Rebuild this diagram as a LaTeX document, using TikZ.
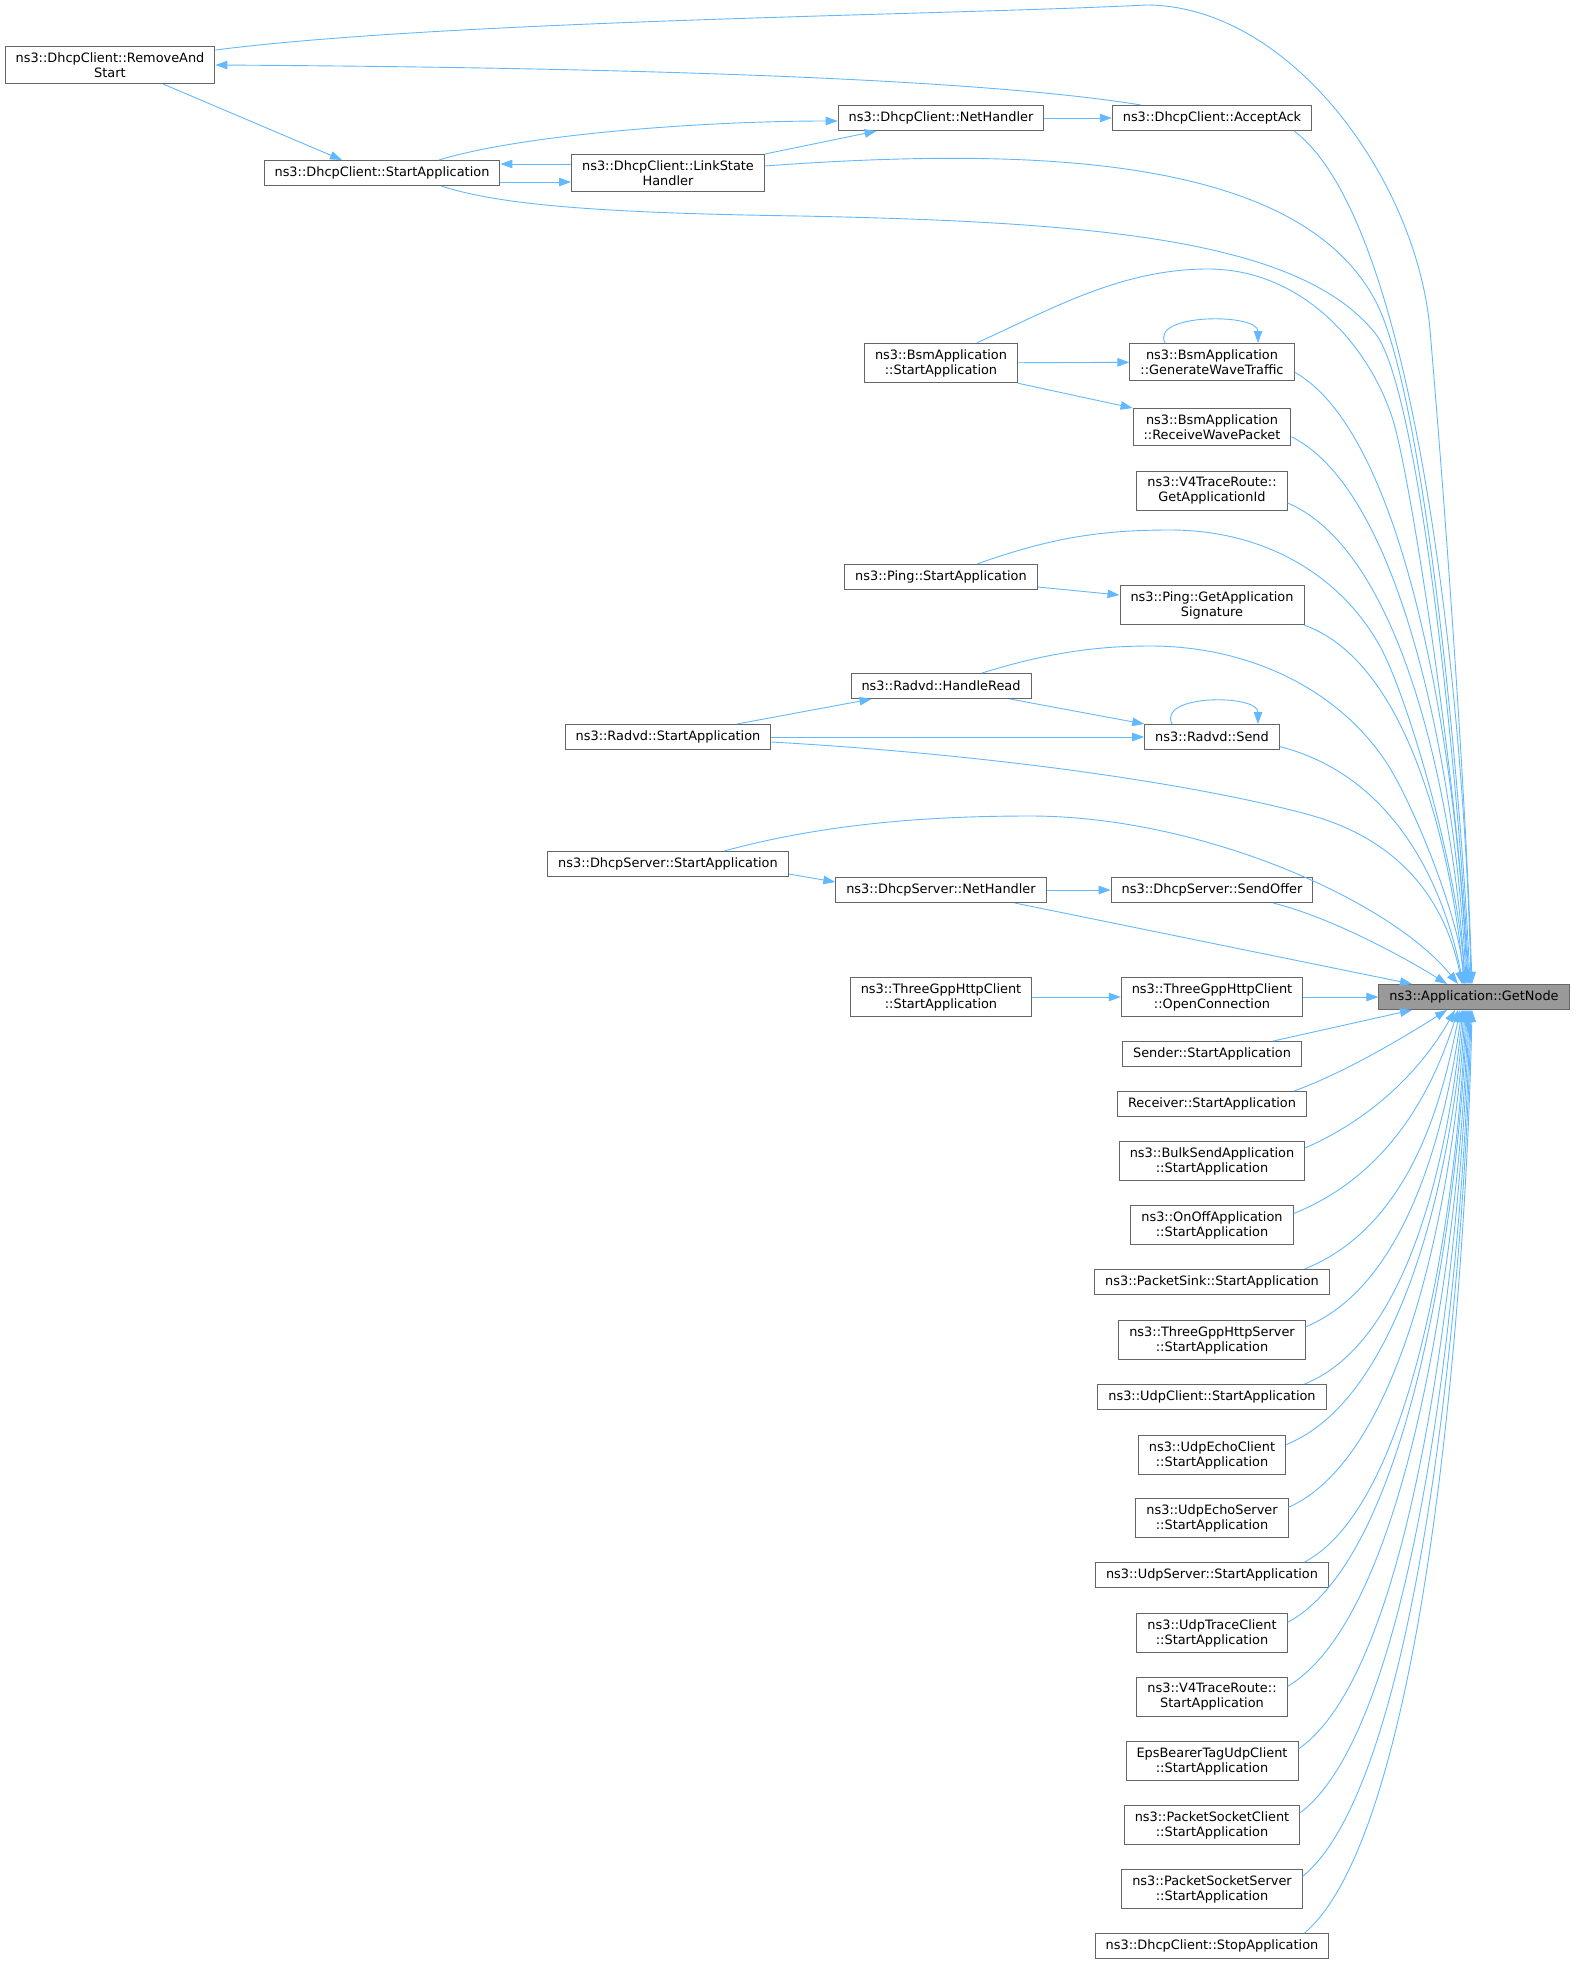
\documentclass[tikz,border=0pt]{standalone}
\usepackage{fontspec}
\setmainfont{DejaVu Sans}
\usetikzlibrary{arrows.meta}
\definecolor{edgeblue}{HTML}{63B8FF}
\definecolor{boxgray}{HTML}{666666}
\definecolor{targetgray}{HTML}{999999}

\begin{document}
\begin{tikzpicture}[x=1pt, y=-1pt, >={Triangle[length=12pt,width=8.5pt]}]

    \tikzset{%
    every func/.style={
        rectangle,
        draw=boxgray,
        line width=1pt,
        fill=white,
        align=center,
        inner xsep=10.5pt,
        inner ysep=6pt,
        minimum height=25pt,
        font=\fontsize{12.9}{15}\selectfont
        },
    func target/.style={
        fill=targetgray
        },
    call/.style={
        ->,
        draw=edgeblue,
        line width=0.9pt
        },
    }

    \useasboundingbox (0,0) rectangle (1575,1965);

    % Called function
    \node [every func/.try, func target/.try] (getnode) at (1474,997) {ns3::Application::GetNode};

    % Left callers
    \node [every func/.try] (ras) at (110,65) {ns3::DhcpClient::RemoveAnd\\Start};
    \node [every func/.try] (dcstart) at (382,173) {ns3::DhcpClient::StartApplication};
    \foreach \m/\l/\y in {linkstate/ns3::DhcpClient::LinkState\\Handler/173,
        radvdstart/ns3::Radvd::StartApplication/737,
        dsstart/ns3::DhcpServer::StartApplication/864}
    \node [every func/.try] (\m) at (668,\y) {\l};

    % Middle column callers
    \foreach \m/\l/\y in {nethandler/ns3::DhcpClient::NetHandler/118,
        bsmstart/ns3::BsmApplication\\::StartApplication/363,
        pingstart/ns3::Ping::StartApplication/577,
        handleread/ns3::Radvd::HandleRead/686,
        dsnethandler/ns3::DhcpServer::NetHandler/890,
        tgpstart/ns3::ThreeGppHttpClient\\::StartApplication/997}
    \node [every func/.try] (\m) at (941,\y) {\l};

    % Right column callers
    \foreach \m/\l/\y in {acceptack/ns3::DhcpClient::AcceptAck/118,
        gwt/ns3::BsmApplication\\::GenerateWaveTraffic/362,
        rwp/ns3::BsmApplication\\::ReceiveWavePacket/427,
        getappid/ns3::V4TraceRoute::\\GetApplicationId/491,
        getappsig/ns3::Ping::GetApplication\\Signature/605,
        send/ns3::Radvd::Send/737,
        sendoffer/ns3::DhcpServer::SendOffer/890,
        openconn/ns3::ThreeGppHttpClient\\::OpenConnection/997,
        sender/Sender::StartApplication/1054,
        receiver/Receiver::StartApplication/1104,
        bulksend/ns3::BulkSendApplication\\::StartApplication/1161,
        onoff/ns3::OnOffApplication\\::StartApplication/1225,
        packetsink/ns3::PacketSink::StartApplication/1282,
        tgpserver/ns3::ThreeGppHttpServer\\::StartApplication/1340,
        udpclient/ns3::UdpClient::StartApplication/1397,
        echoclient/ns3::UdpEchoClient\\::StartApplication/1455,
        echoserver/ns3::UdpEchoServer\\::StartApplication/1518,
        udpserver/ns3::UdpServer::StartApplication/1575,
        traceclient/ns3::UdpTraceClient\\::StartApplication/1633,
        v4start/ns3::V4TraceRoute::\\StartApplication/1697,
        epsbearer/EpsBearerTagUdpClient\\::StartApplication/1761,
        psclient/ns3::PacketSocketClient\\::StartApplication/1825,
        psserver/ns3::PacketSocketServer\\::StartApplication/1889,
        stopapp/ns3::DhcpClient::StopApplication/1946}
    \node [every func/.try] (\m) at (1212,\y) {\l};

    % DhcpClient calls
    \draw [call] ([xshift=29pt]acceptack.north west) .. controls (1000,82) and (700,68) .. (ras.east);
    \draw [call] ([xshift=53pt]ras.south) -- ([xshift=-40pt]dcstart.north);
    \draw [call] ([xshift=57pt]dcstart.north) .. controls (520,135) and (700,121) .. ([yshift=-3pt]nethandler.west);
    \draw [call] (linkstate.north east) -- ([xshift=39pt]nethandler.south west);
    \draw [call] (nethandler) -- (acceptack);
    \draw [call] ([yshift=9pt]linkstate.west) -- ([yshift=9pt]dcstart.east);
    \draw [call] ([yshift=-9pt]dcstart.east) -- ([yshift=-9pt]linkstate.west);

    % Bsm, Ping and Radvd calls
    \draw [call] (bsmstart) -- (gwt);
    \draw [call] (bsmstart.south east) -- (rwp.north west);
    \draw [call] ([xshift=-47pt]gwt.north) .. controls +(-15,-30) and +(0,-30) .. ([xshift=46pt]gwt.north);
    \draw [call] ([yshift=-10pt]pingstart.east) -- ([yshift=10pt]getappsig.west);
    \draw [call] ([xshift=69pt]radvdstart.north) -- ([xshift=21pt]handleread.south west);
    \draw [call] ([xshift=69pt]handleread.south) -- (send.north west);
    \draw [call] (radvdstart) -- (send);
    \draw [call] ([xshift=-40pt]send.north) .. controls +(-15,-30) and +(0,-30) .. ([xshift=46pt]send.north);

    % DhcpServer and ThreeGpp calls
    \draw [call] ([yshift=-10pt]dsstart.east) -- ([yshift=8pt]dsnethandler.west);
    \draw [call] (dsnethandler) -- (sendoffer);
    \draw [call] (tgpstart) -- (openconn);
    \draw [call] (openconn) -- (getnode);
    \draw [call] (dsnethandler.-10) -- ([xshift=-62pt]getnode.north);
    \draw [call] (sendoffer.-12) .. controls +(60,15) and +(-40,-25) .. ([xshift=-27pt]getnode.north);

    % Long calls into GetNode from the left
    \draw [call] ([yshift=15pt]ras.east) .. controls (450,20) and (950,15) .. (1146,5)
        .. controls (1290,5) and (1417,180) .. (1430,330)
        .. controls (1447,530) and (1466,800) .. ([xshift=-2pt]getnode.north);
    \draw [call] ([yshift=7pt]linkstate.east) .. controls (1050,145) and (1300,160) .. (1375,300)
        .. controls (1425,393) and (1462,800) .. ([xshift=-4pt]getnode.north);
    \draw [call] ([xshift=59pt]dcstart.south) .. controls (500,205) and (600,213) .. (800,216)
        .. controls (1100,222) and (1300,240) .. (1375,333)
        .. controls (1421,390) and (1460,800) .. ([xshift=-5pt]getnode.north);
    \draw [call] ([xshift=36pt]bsmstart.north) .. controls (1050,310) and (1120,269) .. (1208,269)
        .. controls (1300,269) and (1367,342) .. (1392,417)
        .. controls (1410,470) and (1460,800) .. ([xshift=-6pt]getnode.north);
    \draw [call] ([xshift=36pt]pingstart.north) .. controls (1050,538) and (1100,530) .. (1170,530)
        .. controls (1270,530) and (1345,580) .. (1382,650)
        .. controls (1410,705) and (1458,870) .. ([xshift=-9pt]getnode.north);
    \draw [call] ([xshift=41pt]handleread.north) .. controls (1040,655) and (1090,646) .. (1150,646)
        .. controls (1250,646) and (1340,690) .. (1388,765)
        .. controls (1415,808) and (1460,920) .. ([xshift=-10pt]getnode.north);
    \draw [call] ([yshift=-5pt]radvdstart.east) .. controls (1000,755) and (1200,785) .. (1310,815)
        .. controls (1400,840) and (1445,900) .. ([xshift=-12pt]getnode.north);
    \draw [call] ([xshift=56pt]dsstart.north) .. controls (820,825) and (920,816) .. (1030,816)
        .. controls (1200,816) and (1390,900) .. ([xshift=-16pt]getnode.north);

    % Right column calls into GetNode from above
    \foreach \m/\a/\b/\k/\c/\t in {acceptack.-9/125/94/6/264/-3, gwt.-7/119/67/7/190/-7,
        rwp.-7/120/60/7/170/-8, getappid.-9/124/53/8/149/-9,
        getappsig.south east/111/40/10/111/-10, send.-8/128/33/14/74/-11}
    \draw [call] (\m) .. controls +(\a,\b) and +(-\k,-\c) .. ([xshift=\t pt]getnode.north);

    % Right column calls into GetNode from below
    \draw [call] (sender.12) -- ([xshift=-62pt]getnode.south);
    \draw [call] (receiver.9) .. controls +(55,-20) and +(-35,22) .. ([xshift=-27pt]getnode.south);
    \foreach \m/\a/\b/\k/\c/\t in {bulksend/80/35/25/45/-19, onoff/105/42/20/63/-16,
        packetsink/110/44/16/80/-14, tgpserver/108/45/14/98/-12,
        udpclient/113/45/12/116/-11, echoclient/124/50/10/135/-10,
        echoserver/123/55/9/154/-9, udpserver/115/61/8/171/-8,
        traceclient/125/67/8/190/-7, v4start/126/75/7/210/-6,
        epsbearer/118/81/7/229/-5, psclient/118/88/6/249/-4,
        psserver/117/95/6/268/-3, stopapp/120/102/6/286/-2}
    \draw [call] (\m.8) .. controls +(\a,-\b) and +(-\k,\c) .. ([xshift=\t pt]getnode.south);

\end{tikzpicture}
\end{document}
